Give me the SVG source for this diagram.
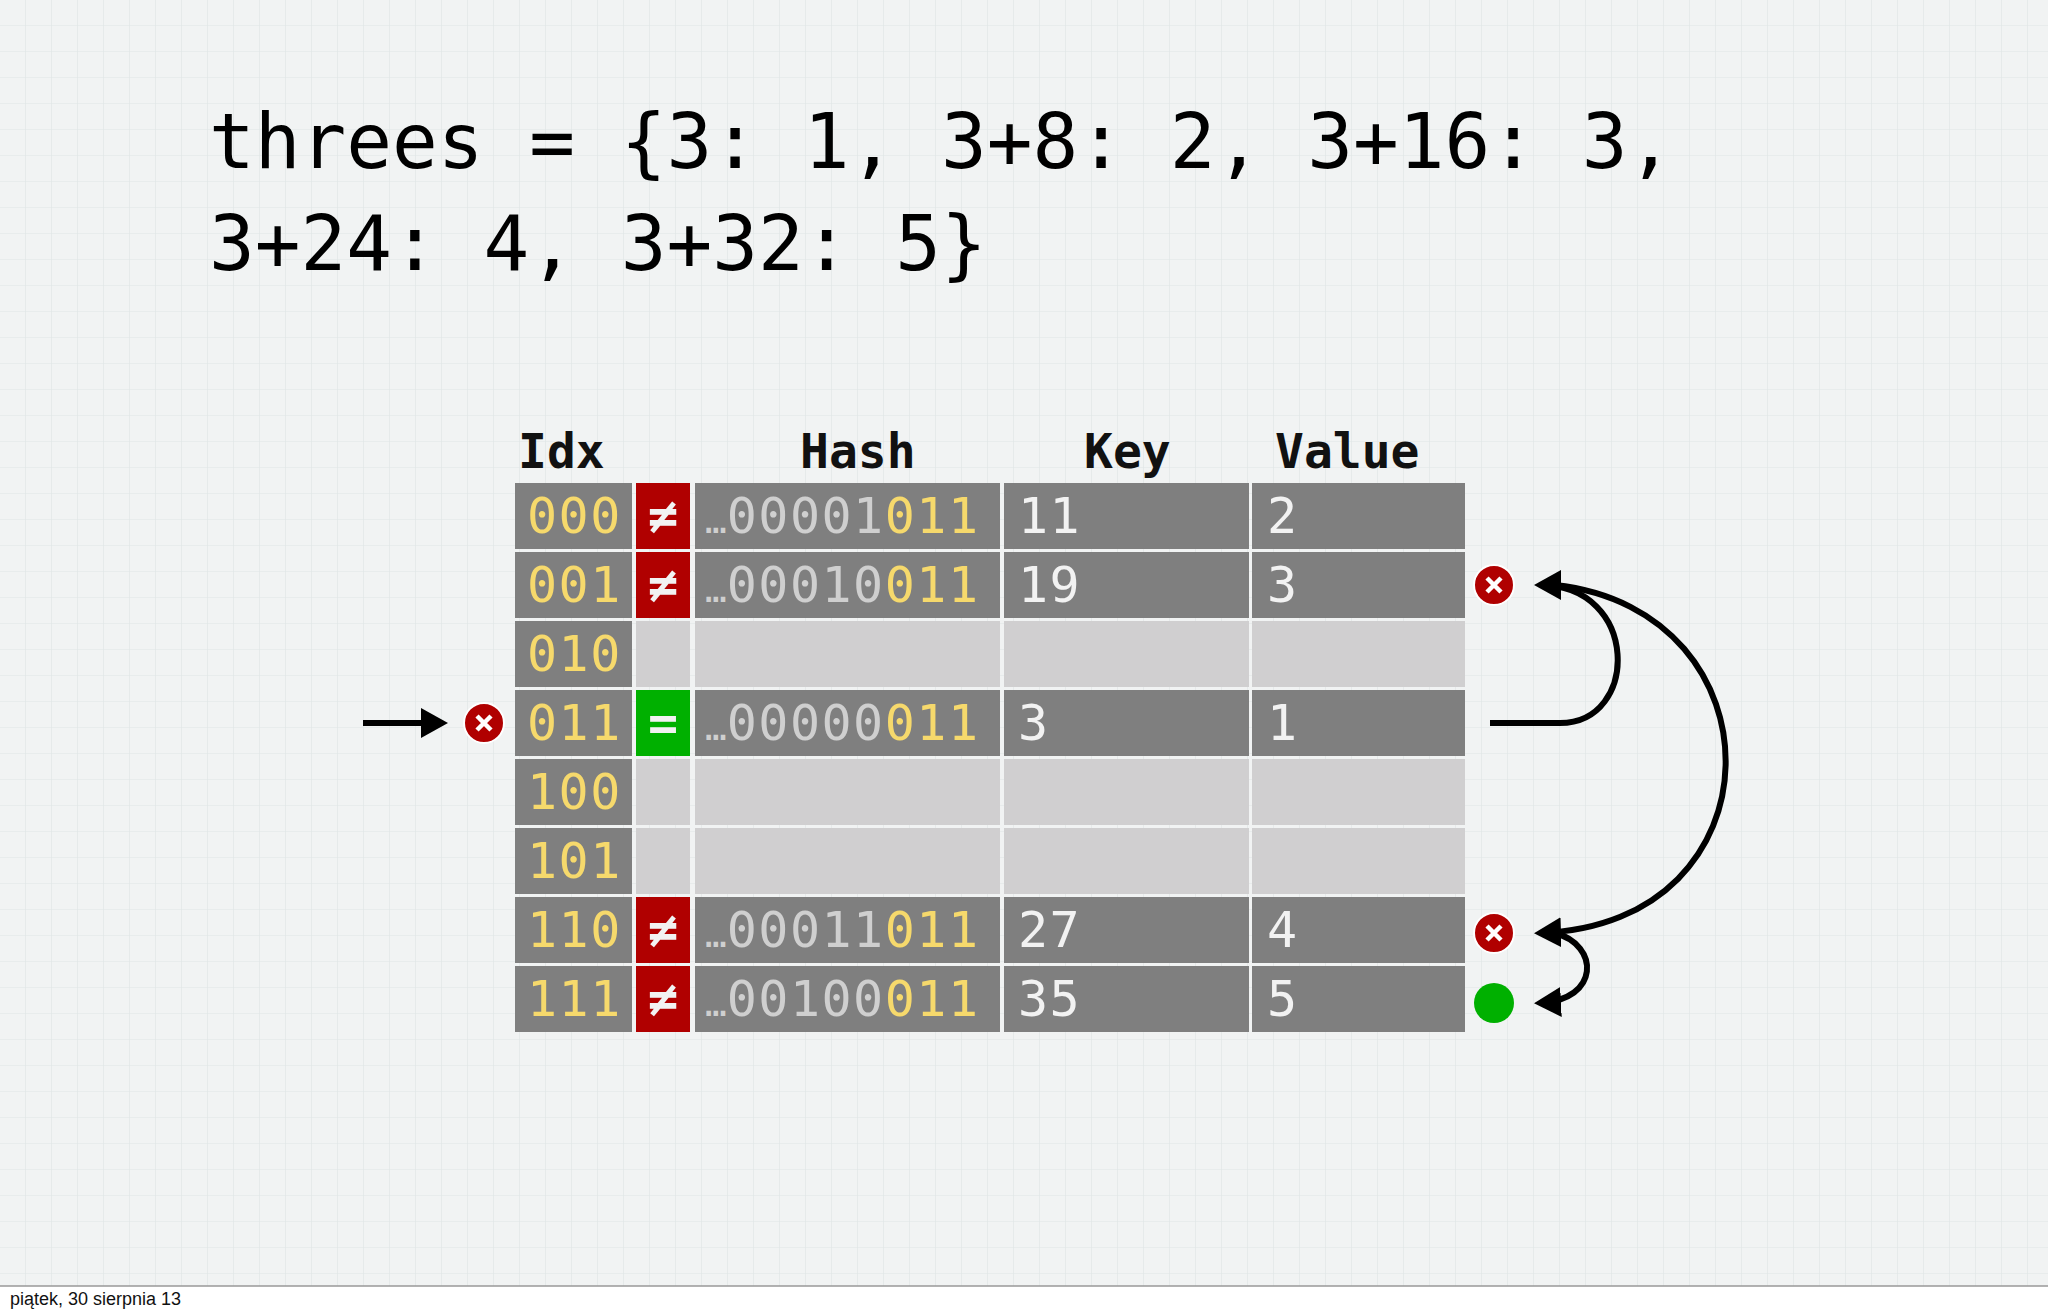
<svg xmlns="http://www.w3.org/2000/svg" width="2048" height="1312" viewBox="0 0 2048 1312">
<style>
.m{font-family:"DejaVu Sans Mono","Liberation Mono",monospace}
.h{font-size:48px;font-weight:bold;fill:#111}
.c{font-size:50px;letter-spacing:1.5px}
.y{fill:#f6d96c}.g{fill:#cfcfcf}.w{fill:#f2f2f2}
.d{fill:#7f7f7f}.l{fill:#d0cfd0}.r{fill:#b00000}.gr{fill:#00b000}
.con{fill:none;stroke:#000;stroke-width:6}
</style>
<defs>
<pattern id="grid" width="26" height="26" patternUnits="userSpaceOnUse">
<path d="M26 0V26M0 26H26" fill="none" stroke="#dfe5e5" stroke-width="1.2"/>
</pattern>
<marker id="ah" markerWidth="5" markerHeight="5" refX="3.5" refY="2.5" orient="auto" markerUnits="strokeWidth">
<path d="M0,0L4.5,2.5L0,5Z" fill="#000"/>
</marker>
<g id="xc"><circle r="20" fill="#b00000" stroke="#fff" stroke-width="2"/><path d="M-7,-7L7,7M7,-7L-7,7" stroke="#fff" stroke-width="4.5"/></g>
</defs>
<rect width="2048" height="1312" fill="#f1f3f3"/>
<rect width="2048" height="1286" fill="url(#grid)"/>
<rect y="1286" width="2048" height="26" fill="#fff"/>
<line x1="0" y1="1286" x2="2048" y2="1286" stroke="#999" stroke-width="1.5"/>
<text x="10" y="1305" font-family="Liberation Sans,Arial,sans-serif" font-size="18" fill="#111">piątek, 30 sierpnia 13</text>
<g id="title" class="m" font-size="76" fill="#000">
<text x="209" y="168" xml:space="preserve">threes = {3: 1, 3+8: 2, 3+16: 3,</text>
<text x="209" y="270" xml:space="preserve">3+24: 4, 3+32: 5}</text>
</g>
<g id="header" class="m h">
<text x="518" y="468">Idx</text><text x="800" y="468">Hash</text><text x="1084" y="468">Key</text><text x="1275" y="468">Value</text>
</g>
<g id="table" class="m c">
<g id="row0"><rect class="d" x="515" y="483" width="117" height="66"/><rect class="r" x="636" y="483" width="54" height="66"/><rect class="d" x="695" y="483" width="305" height="66"/><rect class="d" x="1004" y="483" width="245" height="66"/><rect class="d" x="1252" y="483" width="213" height="66"/>
<text class="y" x="527" y="533">000</text><text class="w" x="648" y="533" font-weight="bold">≠</text><text x="705" y="533"><tspan class="g" font-size="36" letter-spacing="0">…</tspan><tspan class="g">00001</tspan><tspan class="y">011</tspan></text><text class="w" x="1018" y="533">11</text><text class="w" x="1267" y="533">2</text></g>
<g id="row1"><rect class="d" x="515" y="552" width="117" height="66"/><rect class="r" x="636" y="552" width="54" height="66"/><rect class="d" x="695" y="552" width="305" height="66"/><rect class="d" x="1004" y="552" width="245" height="66"/><rect class="d" x="1252" y="552" width="213" height="66"/>
<text class="y" x="527" y="602">001</text><text class="w" x="648" y="602" font-weight="bold">≠</text><text x="705" y="602"><tspan class="g" font-size="36" letter-spacing="0">…</tspan><tspan class="g">00010</tspan><tspan class="y">011</tspan></text><text class="w" x="1018" y="602">19</text><text class="w" x="1267" y="602">3</text></g>
<g id="row2"><rect class="d" x="515" y="621" width="117" height="66"/><rect class="l" x="636" y="621" width="54" height="66"/><rect class="l" x="695" y="621" width="305" height="66"/><rect class="l" x="1004" y="621" width="245" height="66"/><rect class="l" x="1252" y="621" width="213" height="66"/>
<text class="y" x="527" y="671">010</text></g>
<g id="row3"><rect class="d" x="515" y="690" width="117" height="66"/><rect class="gr" x="636" y="690" width="54" height="66"/><rect class="d" x="695" y="690" width="305" height="66"/><rect class="d" x="1004" y="690" width="245" height="66"/><rect class="d" x="1252" y="690" width="213" height="66"/>
<text class="y" x="527" y="740">011</text><text class="w" x="648" y="740" font-weight="bold">=</text><text x="705" y="740"><tspan class="g" font-size="36" letter-spacing="0">…</tspan><tspan class="g">00000</tspan><tspan class="y">011</tspan></text><text class="w" x="1018" y="740">3</text><text class="w" x="1267" y="740">1</text></g>
<g id="row4"><rect class="d" x="515" y="759" width="117" height="66"/><rect class="l" x="636" y="759" width="54" height="66"/><rect class="l" x="695" y="759" width="305" height="66"/><rect class="l" x="1004" y="759" width="245" height="66"/><rect class="l" x="1252" y="759" width="213" height="66"/>
<text class="y" x="527" y="809">100</text></g>
<g id="row5"><rect class="d" x="515" y="828" width="117" height="66"/><rect class="l" x="636" y="828" width="54" height="66"/><rect class="l" x="695" y="828" width="305" height="66"/><rect class="l" x="1004" y="828" width="245" height="66"/><rect class="l" x="1252" y="828" width="213" height="66"/>
<text class="y" x="527" y="878">101</text></g>
<g id="row6"><rect class="d" x="515" y="897" width="117" height="66"/><rect class="r" x="636" y="897" width="54" height="66"/><rect class="d" x="695" y="897" width="305" height="66"/><rect class="d" x="1004" y="897" width="245" height="66"/><rect class="d" x="1252" y="897" width="213" height="66"/>
<text class="y" x="527" y="947">110</text><text class="w" x="648" y="947" font-weight="bold">≠</text><text x="705" y="947"><tspan class="g" font-size="36" letter-spacing="0">…</tspan><tspan class="g">00011</tspan><tspan class="y">011</tspan></text><text class="w" x="1018" y="947">27</text><text class="w" x="1267" y="947">4</text></g>
<g id="row7"><rect class="d" x="515" y="966" width="117" height="66"/><rect class="r" x="636" y="966" width="54" height="66"/><rect class="d" x="695" y="966" width="305" height="66"/><rect class="d" x="1004" y="966" width="245" height="66"/><rect class="d" x="1252" y="966" width="213" height="66"/>
<text class="y" x="527" y="1016">111</text><text class="w" x="648" y="1016" font-weight="bold">≠</text><text x="705" y="1016"><tspan class="g" font-size="36" letter-spacing="0">…</tspan><tspan class="g">00100</tspan><tspan class="y">011</tspan></text><text class="w" x="1018" y="1016">35</text><text class="w" x="1267" y="1016">5</text></g>
</g>
<g id="markers">
<use href="#xc" x="484" y="723"/>
<use href="#xc" x="1494" y="585"/>
<use href="#xc" x="1494" y="933"/>
<circle cx="1494" cy="1003" r="20" fill="#00b000"/>
</g>
<g id="connectors">
<path class="con" d="M363,723H442" marker-end="url(#ah)"/>
<path class="con" d="M1490,723H1560C1640,723 1640,585 1540,585" marker-end="url(#ah)"/>
<path class="con" d="M1555,585C1785,610 1785,925 1540,933" marker-end="url(#ah)"/>
<path class="con" d="M1555,933C1600,945 1600,1000 1540,1003" marker-end="url(#ah)"/>
</g>
</svg>
